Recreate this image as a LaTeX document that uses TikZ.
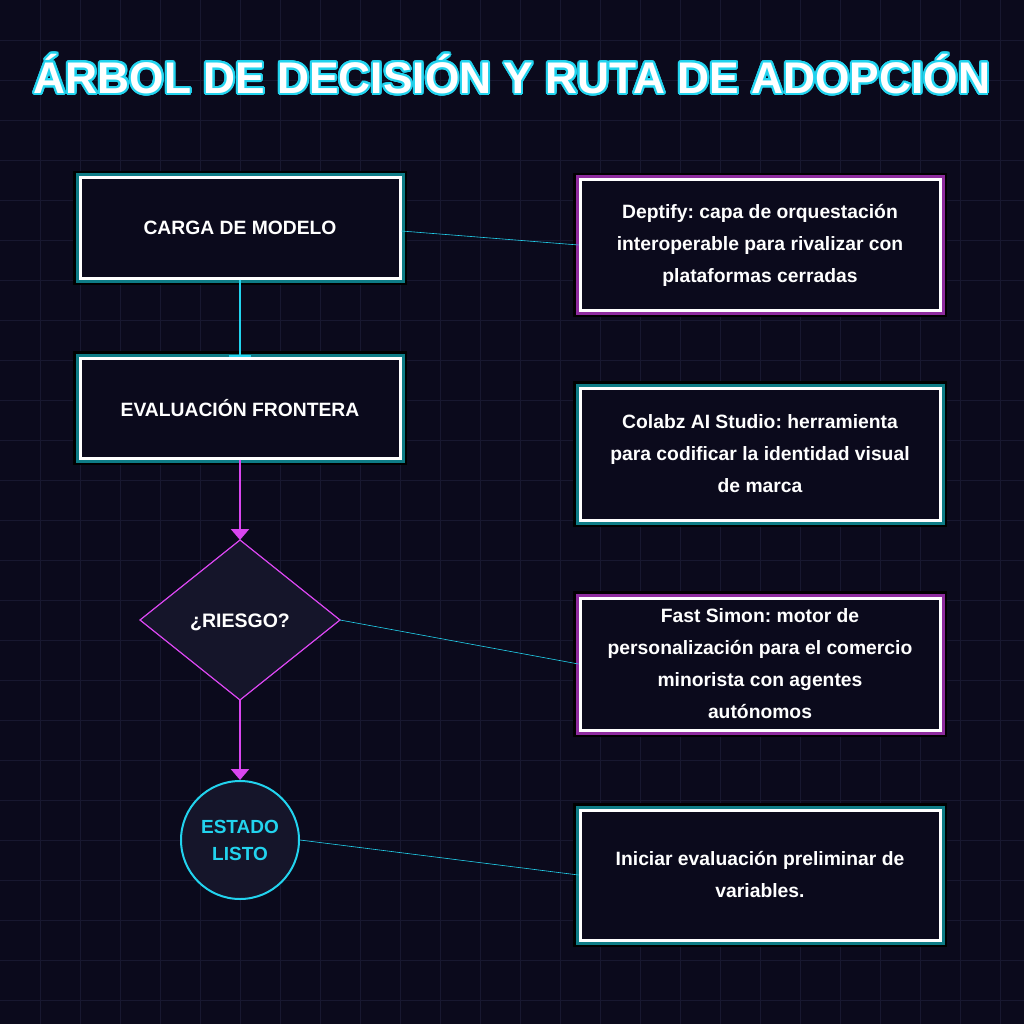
\documentclass[tikz,border=0pt]{standalone}
\usepackage{fontspec}
\setmainfont{Liberation Sans}
\usepackage{contour}
\contourlength{2pt}
\contournumber{24}
\usetikzlibrary{arrows.meta}
\definecolor{bg}{HTML}{0B0A1C}
\definecolor{grid}{HTML}{181830}
\definecolor{cy}{HTML}{22D3EE}
\definecolor{tealg}{HTML}{0E7C86}
\definecolor{mag}{HTML}{D946EF}
\definecolor{purg}{HTML}{8E2C9E}
\definecolor{dfill}{HTML}{15152A}
\hyphenpenalty=10000
\frenchspacing
\begin{document}
\begin{tikzpicture}[x=1pt,y=-1pt,
 box/.style={draw=white,line width=3pt,fill=bg,minimum width=320pt,minimum height=100pt,text=white,font=\bfseries\fontsize{19.3}{22}\selectfont,align=center,inner sep=0pt,
   preaction={draw=black,line width=14pt},preaction={draw=#1,line width=9pt}},
 box/.default=tealg,
 rbox/.style={box=#1,minimum width=360pt,minimum height=130pt,font=\bfseries\fontsize{19.3}{32}\selectfont},
 link/.style={draw=cy,line width=0.6pt},
 ]
\useasboundingbox (0,0) rectangle (1024,1024);
\fill[bg] (0,0) rectangle (1024,1024);
\foreach \i in {40,80,...,1000}{\draw[grid,line width=0.6pt] (\i,0)--(\i,1024); \draw[grid,line width=0.6pt] (0,\i)--(1024,\i);}
\node (title) at (512,75) {\fontsize{44.3}{50}\selectfont\bfseries\contour{cy}{\color{white}ÁRBOL DE DECISIÓN Y RUTA DE ADOPCIÓN}};
\node[box] (a) at (240,228) {CARGA DE MODELO};
\node[box] (b) at (240,408) {EVALUACIÓN FRONTERA};
\coordinate (dl) at (140,620); \coordinate (dr) at (340,620); \coordinate (dt) at (240,540); \coordinate (db) at (240,700);
\draw[mag,fill=dfill,line width=1.2pt] (dt)--(dr)--(db)--(dl)--cycle;
\node[text=white,font=\bfseries\fontsize{19.5}{22}\selectfont] (dtext) at (240,622) {¿RIESGO?};
\node[circle,draw=cy,fill=dfill,line width=2pt,minimum size=118pt,text=cy,align=center,font=\bfseries\fontsize{19}{27}\selectfont] (c) at (240,840) {ESTADO\\LISTO};
\node[rbox=purg] (r1) at (760,245) {Deptify: capa de orquestación\\interoperable para rivalizar con\\plataformas cerradas};
\node[rbox=tealg,minimum height=132pt] (r2) at (760,454) {Colabz AI Studio: herramienta\\para codificar la identidad visual\\de marca};
\node[rbox=purg,minimum height=132pt] (r3) at (760,664) {Fast Simon: motor de\\personalización para el comercio\\minorista con agentes\\autónomos};
\node[rbox=tealg] (r4) at (760,875) {Iniciar evaluación preliminar de\\variables.};
\draw[cy,line width=2.5pt,-{Bar[width=22pt,line width=2pt]}] (a.south) -- (b.north);
\draw[mag,line width=2.5pt,-{Triangle[length=11pt,width=18pt]}] (b.south) -- (dt);
\draw[mag,line width=2.5pt,-{Triangle[length=11pt,width=18pt]}] (db) -- (c.north);
\draw[link] (a.east) ++(0,3) -- (r1.west);
\draw[link] (dr) -- (r3.west);
\draw[link] (c.east) -- (r4.west);
\end{tikzpicture}
\end{document}
